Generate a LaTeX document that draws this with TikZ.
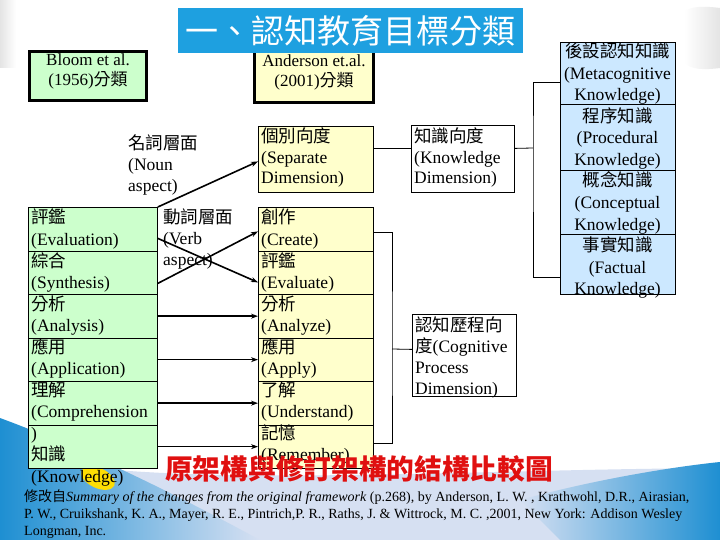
\documentclass[tikz,border=0pt]{standalone}
\usepackage{fontspec}
\setmainfont{Liberation Serif}
\newfontfamily\cjk{Noto Sans CJK TC}
\usetikzlibrary{arrows.meta,calc}
\definecolor{gfill}{HTML}{CCFFCC}
\definecolor{yfill}{HTML}{FFFFCC}
\definecolor{bfill}{HTML}{CCE8FF}
\definecolor{banner}{HTML}{1EA0E0}
\definecolor{redtxt}{HTML}{E01010}
\definecolor{bgl}{HTML}{D6E0F2}
\definecolor{bgb}{HTML}{1E8FD2}
\definecolor{bgg}{HTML}{E4E4E4}
\begin{document}
\begin{tikzpicture}[x=1pt,y=-1pt,
  txt/.style={inner sep=0pt, font=\fontsize{17.5}{21}\selectfont},
  stxt/.style={inner sep=0pt, font=\fontsize{14}{17}\selectfont},
  gbox/.style={draw=black, line width=0.8pt, fill=gfill, minimum width=129pt, minimum height=43.5pt, inner sep=0pt, anchor=north west},
  ybox/.style={draw=black, line width=0.8pt, fill=yfill, minimum width=115pt, minimum height=43.5pt, inner sep=0pt, anchor=north west},
  bbox/.style={draw=black, line width=0.8pt, fill=bfill, minimum width=115pt, inner sep=0pt, anchor=north west},
  wbox/.style={draw=black, line width=0.8pt, fill=white, inner sep=0pt, anchor=north west},
  arr/.style={line width=1.6pt, -{Stealth[length=7pt,width=5pt]}},
  conn/.style={line width=0.8pt}
]
\useasboundingbox (0,0) rectangle (720,540);
% background
\fill[white] (0,0) rectangle (720,540);
\shade[left color=bgg, right color=white] (0,0) rectangle (16,68);
\shade[left color=white, right color=bgg] (684,12) .. controls (690,6) and (705,6) .. (720,8) -- (720,68) .. controls (705,70) and (690,70) .. (684,62) -- cycle;
\fill[bgl] (0,455) .. controls (180,490) and (420,470) .. (720,468) -- (720,540) -- (0,540) -- cycle;
\shade[left color=bgb, right color=bgl] (0,418) .. controls (60,440) and (150,480) .. (260,540) -- (0,540) -- cycle;
\shade[left color=bgl, right color=bgb] (520,500) .. controls (600,478) and (680,466) .. (720,462) -- (720,540) -- (560,540) -- cycle;
\fill[yellow!80!orange, rotate around={-25:(98,478)}] (98,478) ellipse (18pt and 10pt);

% header boxes
\node[draw=black, line width=3pt, fill=gfill, minimum width=117pt, minimum height=49pt] (bloom) at (88,76) {};
\node[txt, font=\fontsize{17}{20}\selectfont, anchor=base] (bloomA) at (88,66) {Bloom et al.};
\node[txt, font=\fontsize{17}{20}\selectfont, anchor=base] (bloomB) at (88,86) {(1956){\cjk 分類}};
\node[draw=black, line width=3pt, fill=yfill, minimum width=119pt, minimum height=52pt] (anders) at (314,77) {};
\node[txt, font=\fontsize{17}{20}\selectfont, anchor=base] (andA) at (314,67) {Anderson et.al.};
\node[txt, font=\fontsize{17}{20}\selectfont, anchor=base] (andB) at (314,87) {(2001){\cjk 分類}};
\node[fill=banner, minimum width=345pt, minimum height=45pt, inner sep=0pt, text=white, font=\cjk\fontsize{33}{36}\selectfont] (title) at (350.5,30.5) {一、認知教育目標分類};

% noun aspect
\node[txt, anchor=base west] (n1) at (128,150) {\cjk 名詞層面};
\node[txt, anchor=base west] (n2) at (128,171) {(Noun};
\node[txt, anchor=base west] (n3) at (128,192) {aspect)};

% separate and knowledge dimension
\node[wbox, fill=yfill, minimum width=115pt, minimum height=66pt] (sep) at (258,126) {};
\node[txt, anchor=base west] (s1) at (261,143) {\cjk 個別向度};
\node[txt, anchor=base west] (s2) at (261,163.5) {(Separate};
\node[txt, anchor=base west] (s3) at (261,184) {Dimension)};
\node[wbox, minimum width=103pt, minimum height=67pt] (kd) at (411,125) {};
\node[txt, anchor=base west] (k1) at (414,143) {\cjk 知識向度};
\node[txt, anchor=base west] (k2) at (414,163.5) {(Knowledge};
\node[txt, anchor=base west] (k3) at (414,184) {Dimension)};

% knowledge types (right)
\node[bbox, minimum height=62pt] (B0) at (560,42) {};
\node[bbox, minimum height=66pt] (B1) at (560,104) {};
\node[bbox, minimum height=64pt] (B2) at (560,170) {};
\node[bbox, minimum height=60pt] (B3) at (560,234) {};
\foreach \t [count=\i from 0] in {{\cjk 後設認知知識},{(Metacognitive},{Knowledge)},{\cjk 程序知識},{(Procedural},{Knowledge)},{\cjk 概念知識},{(Conceptual},{Knowledge)},{\cjk 事實知識},{(Factual},{Knowledge)}}
  \node[txt, anchor=base] (rt\i) at (617.5,58+21.5*\i) {\t};

% left column (Bloom)
\foreach \i in {0,...,5} \node[gbox] (L\i) at (28,207+43.5*\i) {};
\foreach \t [count=\i from 0] in {{\cjk 評鑑},{(Evaluation)},{\cjk 綜合},{(Synthesis)},{\cjk 分析},{(Analysis)},{\cjk 應用},{(Application)},{\cjk 理解},{(Comprehension},{)},{\cjk 知識},{(Knowledge)}}
  \node[txt, anchor=base west] (lt\i) at (31,224+21.5*\i) {\t};

% middle column (Anderson)
\foreach \i in {0,...,5} \node[ybox] (M\i) at (258,207+43.5*\i) {};
\foreach \t [count=\i from 0] in {{\cjk 創作},{(Create)},{\cjk 評鑑},{(Evaluate)},{\cjk 分析},{(Analyze)},{\cjk 應用},{(Apply)},{\cjk 了解},{(Understand)},{\cjk 記憶},{(Remember)}}
  \node[txt, anchor=base west] (mt\i) at (261,224+21.5*\i) {\t};

% verb aspect
\node[txt, anchor=base west] (v1) at (163,224) {\cjk 動詞層面};
\node[txt, anchor=base west] (v2) at (163,244.5) {(Verb};
\node[txt, anchor=base west] (v3) at (163,265) {aspect)};

% cognitive process box
\node[wbox, minimum width=104pt, minimum height=82pt] (cog) at (412,314) {};
\node[txt, anchor=base west] (c1) at (415,331) {\cjk 認知歷程向};
\node[txt, anchor=base west] (c2) at (415,352) {{\cjk 度}(Cognitive};
\node[txt, anchor=base west] (c3) at (415,373) {Process};
\node[txt, anchor=base west] (c4) at (415,394) {Dimension)};

% arrows
\draw[arr] (L0.north east) -- ($(sep.west)+(0,2)$);
\draw[arr] ($(L0.east)+(0,9.25)$) -- ($(M1.west)+(0,9.75)$);
\draw[arr] ($(L1.east)+(0,10.75)$) -- ($(M0.west)+(0,2.25)$);
\draw[arr] (L2.east) -- (M2.west);
\draw[arr] (L3.east) -- (M3.west);
\draw[arr] (L4.east) -- (M4.west);
\draw[arr, line width=0.8pt] (L5.east) -- (M5.west);

% connectors
\draw[conn] ($(sep.east)+(0,-11)$) -- ($(kd.west)+(0,-10.5)$);
\coordinate (kb) at (533,148);
\draw[conn] ($(kd.east)+(0,-10.5)$) -- (kb);
\draw[conn] ($(B0.west)+(0,9)$) -| (kb) |- ($(B3.west)+(0,13)$);
\coordinate (cb) at (392,349);
\draw[conn] ($(M0.east)+(0,3.25)$) -| (cb) |- ($(M5.east)+(0,-3.25)$);
\draw[conn] (cb) -- ($(cog.west)+(0,-6)$);

% caption
\node[inner sep=0pt, text=redtxt, font=\cjk\bfseries\fontsize{27.7}{30}\selectfont, anchor=base west] (cap) at (165,479) {原架構與修訂架構的結構比較圖};

% footer
\node[stxt, anchor=base west] (f1) at (24,501) {{\cjk 修改自}\textit{Summary of the changes from the original framework} (p.268), by Anderson, L. W. , Krathwohl, D.R., Airasian,};
\node[stxt, anchor=base west] (f2) at (24,518) {P. W., Cruikshank, K. A., Mayer, R. E., Pintrich,P. R., Raths, J. \& Wittrock, M. C. ,2001, New York: Addison Wesley};
\node[stxt, anchor=base west] (f3) at (24,535) {Longman, Inc.};
\end{tikzpicture}
\end{document}
